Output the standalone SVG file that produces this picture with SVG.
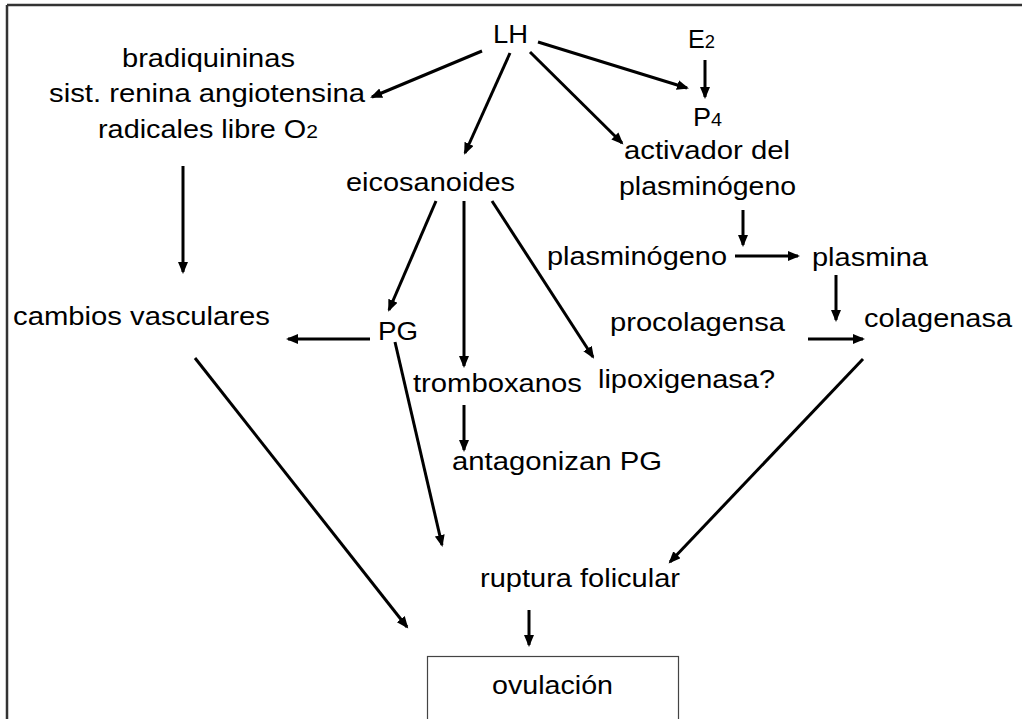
<svg xmlns="http://www.w3.org/2000/svg" width="1022" height="719" viewBox="0 0 1022 719">
<defs>
<marker id="ah" markerUnits="userSpaceOnUse" markerWidth="14" markerHeight="12" refX="10" refY="5" orient="auto">
<path d="M0,0 L12,5 L0,10 Z" fill="#000"/>
</marker>
<style>
text{font-family:"Liberation Sans",Arial,sans-serif;font-size:26px;fill:#000}
.sub{font-size:19px}
.c line{stroke:#000;stroke-width:3;marker-end:url(#ah)}
</style>
</defs>
<rect width="1022" height="719" fill="#fff"/>
<g id="frame" stroke="#333" stroke-width="2.5" fill="none">
<line x1="7" y1="5" x2="1022" y2="5"/>
<line x1="7" y1="5" x2="7" y2="719"/>
</g>
<g id="n-left"><text x="122" y="67" textLength="173" lengthAdjust="spacingAndGlyphs">bradiquininas</text>
<text x="49" y="102" textLength="316" lengthAdjust="spacingAndGlyphs">sist. renina angiotensina</text>
<text x="98" y="138" textLength="220" lengthAdjust="spacingAndGlyphs">radicales libre O<tspan class="sub">2</tspan></text></g>
<g id="n-lh"><text x="493" y="43" textLength="35" lengthAdjust="spacingAndGlyphs">LH</text></g>
<g id="n-e2"><text x="688" y="48" textLength="27" lengthAdjust="spacingAndGlyphs">E<tspan class="sub">2</tspan></text></g>
<g id="n-p4"><text x="693" y="126" textLength="29" lengthAdjust="spacingAndGlyphs">P<tspan class="sub">4</tspan></text></g>
<g id="n-activador"><text x="624" y="159" textLength="166" lengthAdjust="spacingAndGlyphs">activador del</text>
<text x="619" y="195" textLength="177" lengthAdjust="spacingAndGlyphs">plasminógeno</text></g>
<g id="n-plasminogeno"><text x="547" y="265" textLength="180" lengthAdjust="spacingAndGlyphs">plasminógeno</text></g>
<g id="n-plasmina"><text x="812" y="266" textLength="116" lengthAdjust="spacingAndGlyphs">plasmina</text></g>
<g id="n-procolagensa"><text x="610" y="331" textLength="175" lengthAdjust="spacingAndGlyphs">procolagensa</text></g>
<g id="n-colagenasa"><text x="864" y="327" textLength="148" lengthAdjust="spacingAndGlyphs">colagenasa</text></g>
<g id="n-lipox"><text x="598" y="388" textLength="177" lengthAdjust="spacingAndGlyphs">lipoxigenasa?</text></g>
<g id="n-trombox"><text x="413" y="392" textLength="169" lengthAdjust="spacingAndGlyphs">tromboxanos</text></g>
<g id="n-antag"><text x="452" y="470" textLength="210" lengthAdjust="spacingAndGlyphs">antagonizan PG</text></g>
<g id="n-pg"><text x="378" y="340" textLength="40" lengthAdjust="spacingAndGlyphs">PG</text></g>
<g id="n-cambios"><text x="13" y="325" textLength="257" lengthAdjust="spacingAndGlyphs">cambios vasculares</text></g>
<g id="n-eico"><text x="346" y="191" textLength="169" lengthAdjust="spacingAndGlyphs">eicosanoides</text></g>
<g id="n-ruptura"><text x="480" y="587" textLength="200" lengthAdjust="spacingAndGlyphs">ruptura folicular</text></g>
<g id="n-ovulacion"><rect x="427.5" y="656.5" width="251" height="70" fill="none" stroke="#444" stroke-width="1.2"/>
<text x="492" y="694" textLength="121" lengthAdjust="spacingAndGlyphs">ovulación</text></g>
<g id="connectors" class="c">
<line x1="482" y1="51" x2="372" y2="97"/>
<line x1="510" y1="53" x2="465" y2="153"/>
<line x1="530" y1="52" x2="622" y2="143"/>
<line x1="538" y1="42" x2="687" y2="88"/>
<line x1="705" y1="60" x2="705" y2="97"/>
<line x1="183" y1="166" x2="183" y2="272"/>
<line x1="743" y1="210" x2="743" y2="245"/>
<line x1="735" y1="256" x2="798" y2="256"/>
<line x1="836" y1="275" x2="836" y2="320"/>
<line x1="808" y1="339" x2="863" y2="339"/>
<line x1="436" y1="201" x2="389" y2="310"/>
<line x1="464" y1="201" x2="464" y2="366"/>
<line x1="492" y1="201" x2="593" y2="357"/>
<line x1="370" y1="339" x2="288" y2="339"/>
<line x1="464" y1="405" x2="464" y2="450"/>
<line x1="195" y1="358" x2="407" y2="627"/>
<line x1="395" y1="342" x2="442" y2="545"/>
<line x1="863" y1="359" x2="670" y2="562"/>
<line x1="529" y1="610" x2="529" y2="645"/>
</g>
</svg>
